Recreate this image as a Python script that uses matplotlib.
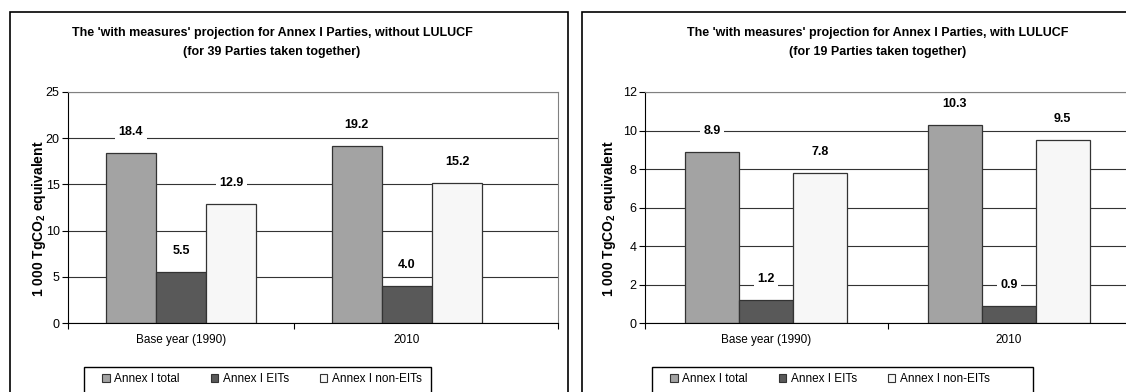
import matplotlib
matplotlib.use("Agg")
import matplotlib.pyplot as plt
from matplotlib.patches import Rectangle, Patch
import numpy as np

matplotlib.rcParams['font.family'] = ["Liberation Sans", "DejaVu Sans"]
matplotlib.rcParams['font.size'] = 8
matplotlib.rcParams['mathtext.fontset'] = 'custom'
matplotlib.rcParams['mathtext.bf'] = 'Liberation Sans:bold'
matplotlib.rcParams['mathtext.rm'] = 'Liberation Sans'

W, H = 1126, 392

categories = ["Base year (1990)", "2010"]
series = ["Annex I total", "Annex I EITs", "Annex I non-EITs"]
colors = ["#a3a3a3", "#595959", "#f7f7f7"]

# without LULUCF (39 Parties)
left_total = [18.4, 19.2]
left_eit = [5.5, 4.0]
left_noneit = [12.9, 15.2]

# with LULUCF (19 Parties)
right_total = [8.9, 10.3]
right_eit = [1.2, 0.9]
right_noneit = [7.8, 9.5]

left_title = ["The 'with measures' projection for Annex I Parties, without LULUCF",
              "(for 39 Parties taken together)"]
right_title = ["The 'with measures' projection for Annex I Parties, with LULUCF",
               "(for 19 Parties taken together)"]

fig = plt.figure(figsize=(W / 100, H / 100), dpi=100)


def px_axes(x0, x1, ytop, ybot):
    return fig.add_axes([x0 / W, 1 - ybot / H, (x1 - x0) / W, (ybot - ytop) / H])


def draw_panel(ax, vals, ymax, ystep, xmax, ylabel_x):
    x = np.arange(len(categories))
    w = 2 / 9
    for i, (v, c) in enumerate(zip(vals, colors)):
        bars = ax.bar(x + (i - 1) * w, v, width=w, color=c, edgecolor="#333333",
                      linewidth=0.9, zorder=2)
        for b, val in zip(bars, v):
            ax.annotate(f"{val:.1f}", (b.get_x() + b.get_width() / 2, b.get_height()),
                        xytext=(0, 15), textcoords="offset points", ha="center", va="center",
                        fontweight="bold", fontsize=9, zorder=4,
                        bbox=dict(facecolor="white", edgecolor="none", pad=2.5))
    ax.set_ylim(0, ymax)
    ax.set_xlim(-0.5, xmax)
    ax.set_yticks(np.arange(0, ymax + 0.01, ystep))
    ax.yaxis.grid(True, color="#333333", linewidth=0.8, zorder=0)
    ax.set_axisbelow(True)
    ax.set_xticks([-0.5, 0.5, xmax])
    ax.set_xticklabels([])
    ax.set_xticks(x, minor=True)
    ax.set_xticklabels(categories, minor=True)
    ax.tick_params(axis="x", which="minor", length=0, pad=8, labelsize=8.5)
    ax.tick_params(axis="x", which="major", length=4, direction="out")
    ax.tick_params(axis="y", length=4, direction="out", pad=2, labelsize=9)
    ax.spines["top"].set_color("#808080")
    ax.spines["right"].set_color("#808080")
    ax.set_ylabel(r"1 000 TgCO$_\mathbf{2}$ equivalent", fontweight="bold", fontsize=10)
    ax.yaxis.set_label_coords(ylabel_x, 0.45)


# panel frames
fig.patches.append(Rectangle((10 / W, -0.1), 558 / W, 1 - 12 / H + 0.1, transform=fig.transFigure,
                             facecolor="none", edgecolor="black", linewidth=1.2))
fig.patches.append(Rectangle((582 / W, -0.1), 0.6, 1 - 12 / H + 0.1, transform=fig.transFigure,
                             facecolor="none", edgecolor="black", linewidth=1.2))

ax1 = px_axes(68, 558, 92, 323)
draw_panel(ax1, [left_total, left_eit, left_noneit], 25, 5, 1.5 + 38 / 226, -0.041)
ax2 = px_axes(645, 1130, 92, 323)
draw_panel(ax2, [right_total, right_eit, right_noneit], 12, 2, 1.5, -0.056)

for cx, lines in [(272, left_title), (878, right_title)]:
    for ty, line in zip([33, 52], lines):
        fig.text(cx / W, 1 - ty / H, line, ha="center", va="center", fontweight="bold", fontsize=9)

handles = [Patch(facecolor=c, edgecolor="#333333", linewidth=0.8) for c in colors]
for x0, x1 in [(84, 431), (652, 1033)]:
    fig.patches.append(Rectangle((x0 / W, -0.1), (x1 - x0) / W, 1 - 367 / H + 0.1,
                                 transform=fig.transFigure, facecolor="white",
                                 edgecolor="black", linewidth=1.0))
    fig.legend(handles, series, loc="center left", ncol=3,
               bbox_to_anchor=((x0 + 18) / W, 1 - 379 / H),
               frameon=False, fontsize=8.5,
               handlelength=0.65, handleheight=0.65, handletextpad=0.4,
               borderpad=0, borderaxespad=0, columnspacing=2.6)

fig.savefig("out.png", dpi=100)
